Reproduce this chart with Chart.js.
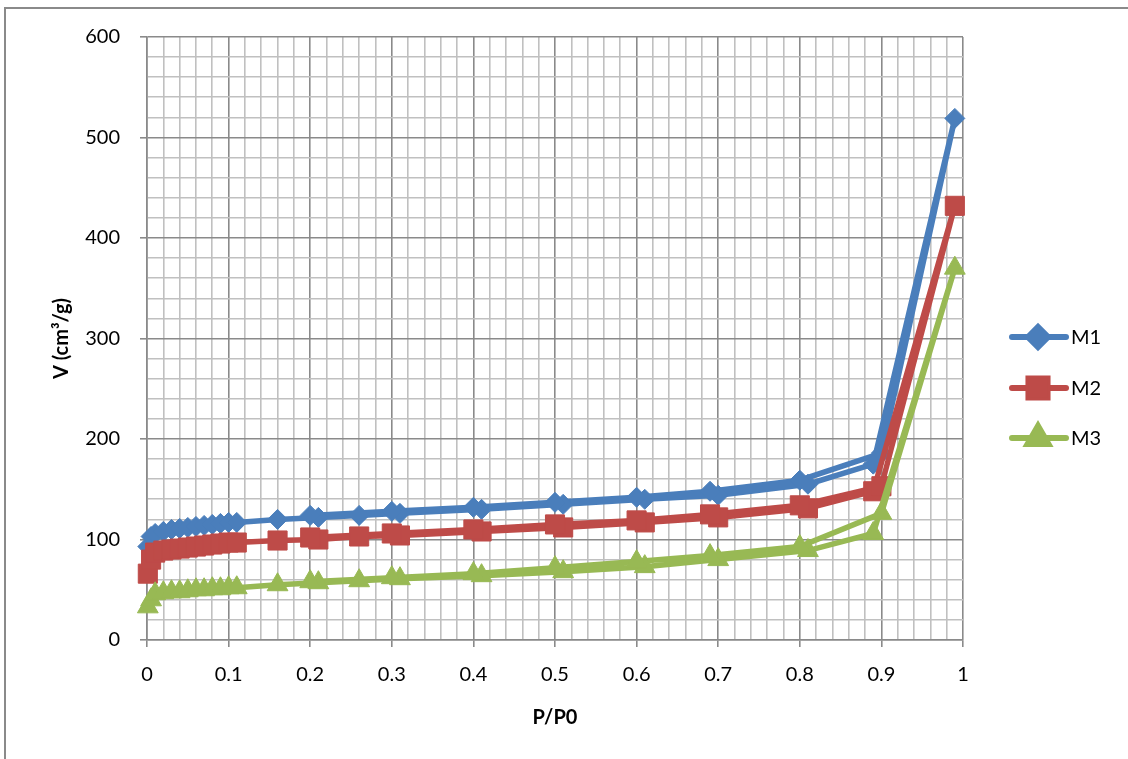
<!DOCTYPE html>
<html>
<head>
<meta charset="utf-8">
<title>Isotherms</title>
<script src="https://cdn.jsdelivr.net/npm/chart.js@4.4.1/dist/chart.umd.min.js"></script>
<style>
  html, body { margin: 0; padding: 0; background: #fff; }
  .wrap { position: relative; width: 1128px; height: 759px; overflow: hidden; }
  .frame { position: absolute; left: 4px; top: 7px; width: 1200px; height: 800px;
           border-left: 2px solid #8a8a8a; border-top: 2px solid #8a8a8a; }
  canvas { position: absolute; left: 0; top: 0; }
</style>
</head>
<body>
<div class="wrap">
  <div class="frame"></div>
  <canvas id="chart" width="1128" height="759"></canvas>
</div>
<script>
// relative pressure of the two branches
const adsP = [0.001, 0.005, 0.01, 0.02, 0.03, 0.04, 0.05, 0.06, 0.07, 0.08, 0.09, 0.1, 0.11, 0.16, 0.21, 0.26, 0.31, 0.41, 0.51, 0.61, 0.7, 0.81, 0.89, 0.99];
const desP = [0.9, 0.8, 0.69, 0.6, 0.5, 0.4, 0.3, 0.2];

// volume adsorbed, cm3/g
const m1Ads = [93, 103, 106, 108, 110, 111, 112, 113, 114, 115, 116, 117, 117, 120, 122, 124, 126, 130, 135, 140, 144, 155, 175, 519];
const m1Des = [186, 159, 148, 142, 137, 132, 128, 124];
const m2Ads = [66, 80, 87, 89, 90, 91, 92, 93, 94, 95, 96, 97, 97, 99, 100, 103, 104, 108, 112, 117, 122, 131, 148, 432];
const m2Des = [153, 134, 125, 119, 115, 110, 106, 102];
const m3Ads = [33, 40, 46, 47, 48, 48, 49, 50, 50, 51, 51, 52, 52, 55, 57, 59, 61, 64, 68, 73, 80, 89, 106, 370];
const m3Des = [126, 93, 84, 78, 72, 66, 62, 58];

const names = ['M1', 'M2', 'M3'];
const colors = ['#4a7ebb', '#be4b48', '#98b954'];
const markers = ['rectRot', 'rect', 'triangle'];
const radii = [10, 13.5, 12];

const FONT = 'Lato, "Open Sans", "Liberation Sans", sans-serif';

function branch(ads, des) {
  const pts = adsP.map((p, i) => ({x: p, y: ads[i]}));
  return pts.concat(desP.map((p, i) => ({x: p, y: des[i]})));
}

const series = [branch(m1Ads, m1Des), branch(m2Ads, m2Des), branch(m3Ads, m3Des)];

const datasets = series.map((pts, i) => ({
  label: names[i],
  data: pts,
  showLine: true,
  clip: false,
  borderColor: colors[i],
  backgroundColor: colors[i],
  borderWidth: 5.5,
  tension: 0,
  pointStyle: markers[i],
  pointRadius: radii[i],
  pointHoverRadius: radii[i],
  pointBorderWidth: 1,
  pointBorderColor: colors[i],
  pointBackgroundColor: colors[i],
  order: 3 - i
}));

const isMajorX = v => Math.abs(v * 10 - Math.round(v * 10)) < 1e-6;
const isMajorY = v => Math.abs(v % 100) < 1e-6;

// legend on the right: line sample with the series marker
const sideLegend = {
  id: 'sideLegend',
  afterDraw(chart) {
    const ctx = chart.ctx;
    const ys = [337, 388, 438];
    ctx.save();
    names.forEach((n, i) => {
      const y = ys[i];
      ctx.strokeStyle = colors[i];
      ctx.lineWidth = 6;
      ctx.lineCap = 'round';
      ctx.beginPath();
      ctx.moveTo(1012, y);
      ctx.lineTo(1066, y);
      ctx.stroke();
      Chart.helpers.drawPoint(ctx, {
        pointStyle: markers[i], radius: radii[i], rotation: 0, borderWidth: 1
      }, 1038, y);
      ctx.fillStyle = colors[i];
      ctx.fill();
      ctx.fillStyle = '#000';
      ctx.font = '20px ' + FONT;
      ctx.textBaseline = 'middle';
      ctx.textAlign = 'left';
      ctx.fillText(n, 1071, y + 1);
    });
    ctx.restore();
  }
};

new Chart(document.getElementById('chart'), {
  type: 'scatter',
  data: { datasets: datasets },
  plugins: [sideLegend],
  options: {
    responsive: false,
    animation: false,
    events: [],
    layout: { padding: { top: 37, right: 165, bottom: 0, left: 0 } },
    plugins: {
      legend: { display: false },
      tooltip: { enabled: false }
    },
    scales: {
      x: {
        type: 'linear',
        min: 0,
        max: 1,
        afterFit(scale) { scale.height = 119; },
        ticks: {
          stepSize: 0.02,
          autoSkip: false,
          maxRotation: 0,
          padding: 16,
          color: '#000',
          font: { family: FONT, size: 20 },
          callback: v => isMajorX(v) ? String(Math.round(v * 10) / 10) : ''
        },
        grid: {
          tickLength: 7,
          lineWidth: 1.6,
          color: c => c.tick && isMajorX(c.tick.value) ? '#8a8a8a' : '#c0c0c0',
          tickColor: c => c.tick && isMajorX(c.tick.value) ? '#8a8a8a' : 'rgba(0,0,0,0)'
        },
        border: { color: '#8a8a8a', width: 1.6 },
        title: {
          display: true,
          text: 'P/P0',
          color: '#000',
          font: { family: FONT, size: 20, weight: 'bold' },
          padding: { top: 0, bottom: 29 }
        }
      },
      y: {
        type: 'linear',
        min: 0,
        max: 600,
        afterFit(scale) { scale.width = 147; },
        ticks: {
          stepSize: 20,
          autoSkip: false,
          padding: 20,
          color: '#000',
          font: { family: FONT, size: 20 },
          callback: v => isMajorY(v) ? String(v) : ''
        },
        grid: {
          tickLength: 7,
          lineWidth: 1.6,
          color: c => c.tick && isMajorY(c.tick.value) ? '#8a8a8a' : '#c0c0c0',
          tickColor: c => c.tick && isMajorY(c.tick.value) ? '#8a8a8a' : 'rgba(0,0,0,0)'
        },
        border: { color: '#8a8a8a', width: 1.6 },
        title: {
          display: true,
          text: 'V (cm³/g)',
          color: '#000',
          font: { family: FONT, size: 20, weight: 'bold' },
          padding: { top: 50, bottom: 0 }
        }
      }
    }
  }
});
</script>
</body>
</html>
